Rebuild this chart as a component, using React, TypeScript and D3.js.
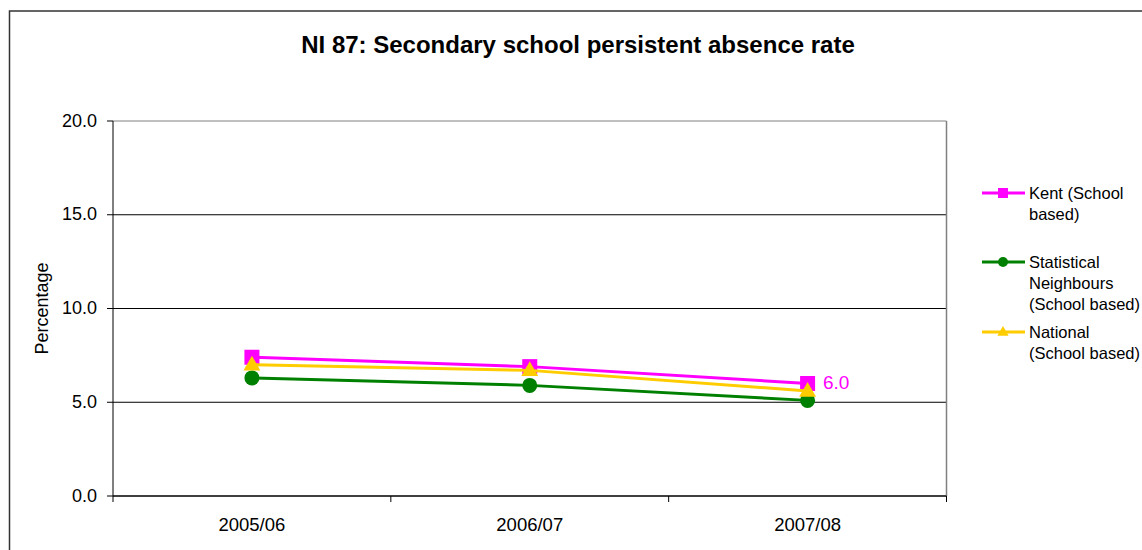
import React from "react";
import * as d3 from "d3";

// 圖表資料
const categories = ["2005/06", "2006/07", "2007/08"];
const kentValues = [7.4, 6.9, 6.0];
const neighbourValues = [6.3, 5.9, 5.1];
const nationalValues = [7.0, 6.7, 5.6];
const yTicks = [0, 5, 10, 15, 20];

interface Series {
    name: string[];
    values: number[];
    color: string;
    marker: "square" | "circle" | "triangle";
}

const seriesList: Series[] = [
    { name: ["Kent (School", "based)"], values: kentValues, color: "#ff00ff", marker: "square" },
    { name: ["Statistical", "Neighbours", "(School based)"], values: neighbourValues, color: "#008000", marker: "circle" },
    { name: ["National", "(School based)"], values: nationalValues, color: "#ffcc00", marker: "triangle" },
];

const W = 1142;
const H = 550;
const plot = { left: 113, right: 946.5, top: 121, bottom: 496 };
const FONT = "Arial, 'Liberation Sans', sans-serif";

/** 畫標記 */
function Marker({ type, x, y, size, color }: { type: string; x: number; y: number; size: number; color: string }) {
    if (type === "square") {
        return <rect x={x - size / 2} y={y - size / 2} width={size} height={size} fill={color} />;
    }
    if (type === "circle") {
        return <circle cx={x} cy={y} r={size / 2} fill={color} />;
    }
    const sym = d3.symbol().type(d3.symbolTriangle).size(size * size * 0.55)();
    return <path d={sym || ""} transform={`translate(${x},${y + size * 0.05})`} fill={color} />;
}

export default function App() {
    const x = d3.scaleBand<string>().domain(categories).range([plot.left, plot.right]);
    const y = d3.scaleLinear().domain([0, 20]).range([plot.bottom, plot.top]);
    const cx = (c: string) => (x(c) || 0) + x.bandwidth() / 2;
    const line = d3.line<number>()
        .x((_, i) => cx(categories[i]))
        .y((d) => y(d));

    const boundaries = categories.map((c) => x(c) || 0).concat([plot.right]);
    const legendY = [193, 262, 332];

    return (
        <svg width={W} height={H} style={{ position: "absolute", left: 0, top: 0, background: "#fff" }} fontFamily={FONT}>
            {/* 外框 */}
            <path d={`M9.5,${H + 2} V11 H${W + 2}`} fill="none" stroke="#333" strokeWidth={1.5} />

            {/* 標題 */}
            <text x={578} y={53} textAnchor="middle" fontSize={24} fontWeight="bold" fill="#000">
                NI 87: Secondary school persistent absence rate
            </text>

            {/* 格線 */}
            {yTicks.map((t) => (
                <line key={t} x1={plot.left} x2={plot.right} y1={y(t)} y2={y(t)}
                    stroke={t === 20 ? "#808080" : "#000"} strokeWidth={1} />
            ))}
            <line x1={plot.right} x2={plot.right} y1={plot.top} y2={plot.bottom} stroke="#808080" strokeWidth={1.5} />

            {/* Y 軸 */}
            <line x1={plot.left} x2={plot.left} y1={plot.top} y2={plot.bottom} stroke="#000" />
            {yTicks.map((t) => (
                <g key={"yt" + t}>
                    <line x1={plot.left - 6} x2={plot.left} y1={y(t)} y2={y(t)} stroke="#000" />
                    <text x={97} y={y(t) + 5.5} textAnchor="end" fontSize={18} fill="#000">
                        {t.toFixed(1)}
                    </text>
                </g>
            ))}
            <text transform={`translate(48,${(plot.top + plot.bottom) / 2}) rotate(-90)`} textAnchor="middle" fontSize={18} fill="#000">
                Percentage
            </text>

            {/* X 軸 */}
            <line x1={plot.left} x2={plot.right} y1={plot.bottom} y2={plot.bottom} stroke="#000" strokeWidth={1.2} />
            {boundaries.map((b, i) => (
                <line key={"xt" + i} x1={b} x2={b} y1={plot.bottom} y2={plot.bottom + 6} stroke="#000" />
            ))}
            {categories.map((c) => (
                <text key={c} x={cx(c)} y={530.5} textAnchor="middle" fontSize={18.5} fill="#000">{c}</text>
            ))}

            {/* 資料線 */}
            {seriesList.map((s) => (
                <g key={s.name.join(" ")}>
                    <path d={line(s.values) || ""} fill="none" stroke={s.color} strokeWidth={3} />
                    {s.values.map((v, i) => (
                        <Marker key={i} type={s.marker} x={cx(categories[i])} y={y(v)} size={15} color={s.color} />
                    ))}
                </g>
            ))}

            {/* 資料標籤 */}
            <text x={823} y={389} fontSize={19} fill="#ff00ff">
                {kentValues[2].toFixed(1)}
            </text>

            {/* 圖例 */}
            {seriesList.map((s, i) => (
                <g key={"lg" + i}>
                    <line x1={982} x2={1025} y1={legendY[i]} y2={legendY[i]} stroke={s.color} strokeWidth={3} />
                    <Marker type={s.marker} x={1003} y={legendY[i]} size={10} color={s.color} />
                    {s.name.map((n, j) => (
                        <text key={j} x={1029} y={legendY[i] + 6 + j * 21} fontSize={16.5} fill="#000">{n}</text>
                    ))}
                </g>
            ))}
        </svg>
    );
}
